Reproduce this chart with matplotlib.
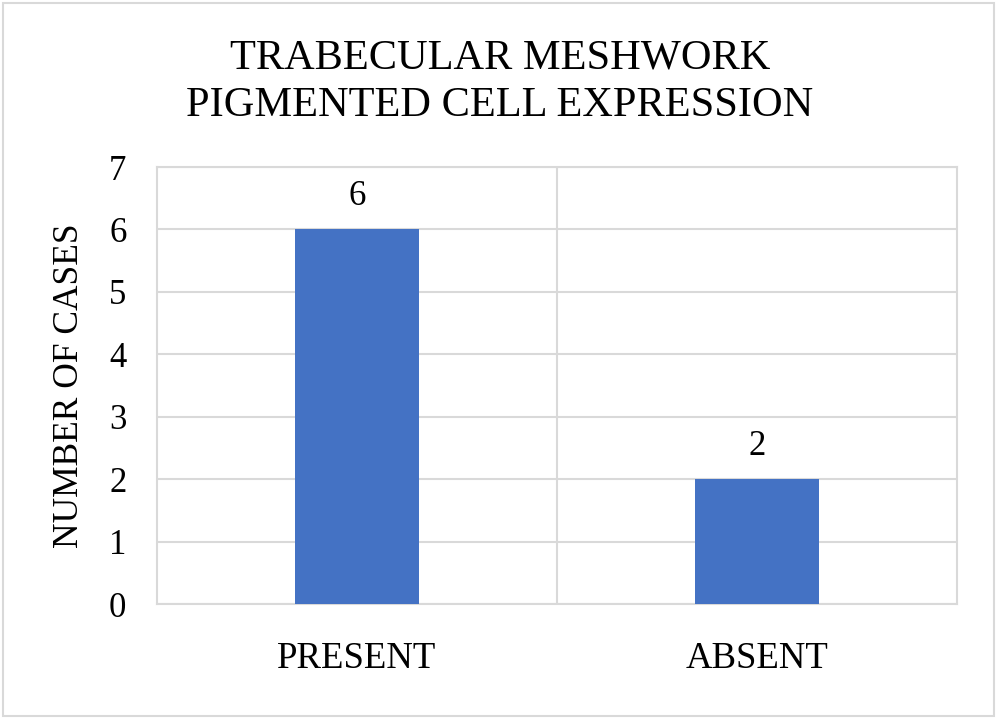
import matplotlib
matplotlib.use("Agg")
import matplotlib.pyplot as plt
from matplotlib.patches import Rectangle

categories = ["PRESENT", "ABSENT"]
values = [6, 2]
yticks = [0, 1, 2, 3, 4, 5, 6, 7]
title = "TRABECULAR MESHWORK\nPIGMENTED CELL EXPRESSION"
ylabel = "NUMBER OF CASES"

plt.rcParams['font.family'] = ['Liberation Serif', 'DejaVu Serif']
grid_c = "#D9D9D9"
bar_c = "#4472C4"

fig = plt.figure(figsize=(10, 7.19), dpi=100)
ax = fig.add_axes([0.157, 0.1599, 0.8, 0.6078])

x = list(range(len(categories)))
ax.bar(x, values, width=0.31, color=bar_c, zorder=3)
for xi, v in zip(x, values):
    ax.annotate(str(v), (xi, v), xytext=(0, 12), textcoords="offset points",
                ha="center", va="bottom", fontsize=25)

ax.set_xlim(-0.5, len(categories) - 0.5)
ax.set_ylim(0, 7)
ax.set_yticks(yticks)
ax.set_yticklabels([str(t) for t in yticks], fontsize=25)
ax.set_xticks(x)
ax.set_xticklabels(categories, fontsize=26.5)
ax.set_xticks([i + 0.5 for i in x[:-1]], minor=True)
ax.tick_params(axis='both', which='both', length=0)
ax.tick_params(axis='y', pad=22)
ax.tick_params(axis='x', pad=27)
ax.grid(axis='y', color=grid_c, linewidth=1.5, zorder=0)
ax.grid(axis='x', which='minor', color=grid_c, linewidth=1.5, zorder=0)
for s in ax.spines.values():
    s.set_color(grid_c)
    s.set_linewidth(1.5)

ax.set_ylabel(ylabel, fontsize=25.5)
ax.yaxis.set_label_coords(-0.089, 0.5)
fig.text(0.5, 0.886, title, ha="center", va="center", fontsize=30.5, linespacing=1.3)

fig.patches.append(Rectangle((0.003, 0.004), 0.991, 0.992, transform=fig.transFigure,
                             fill=False, edgecolor=grid_c, linewidth=1.5))

fig.savefig("out.png", dpi=100)
